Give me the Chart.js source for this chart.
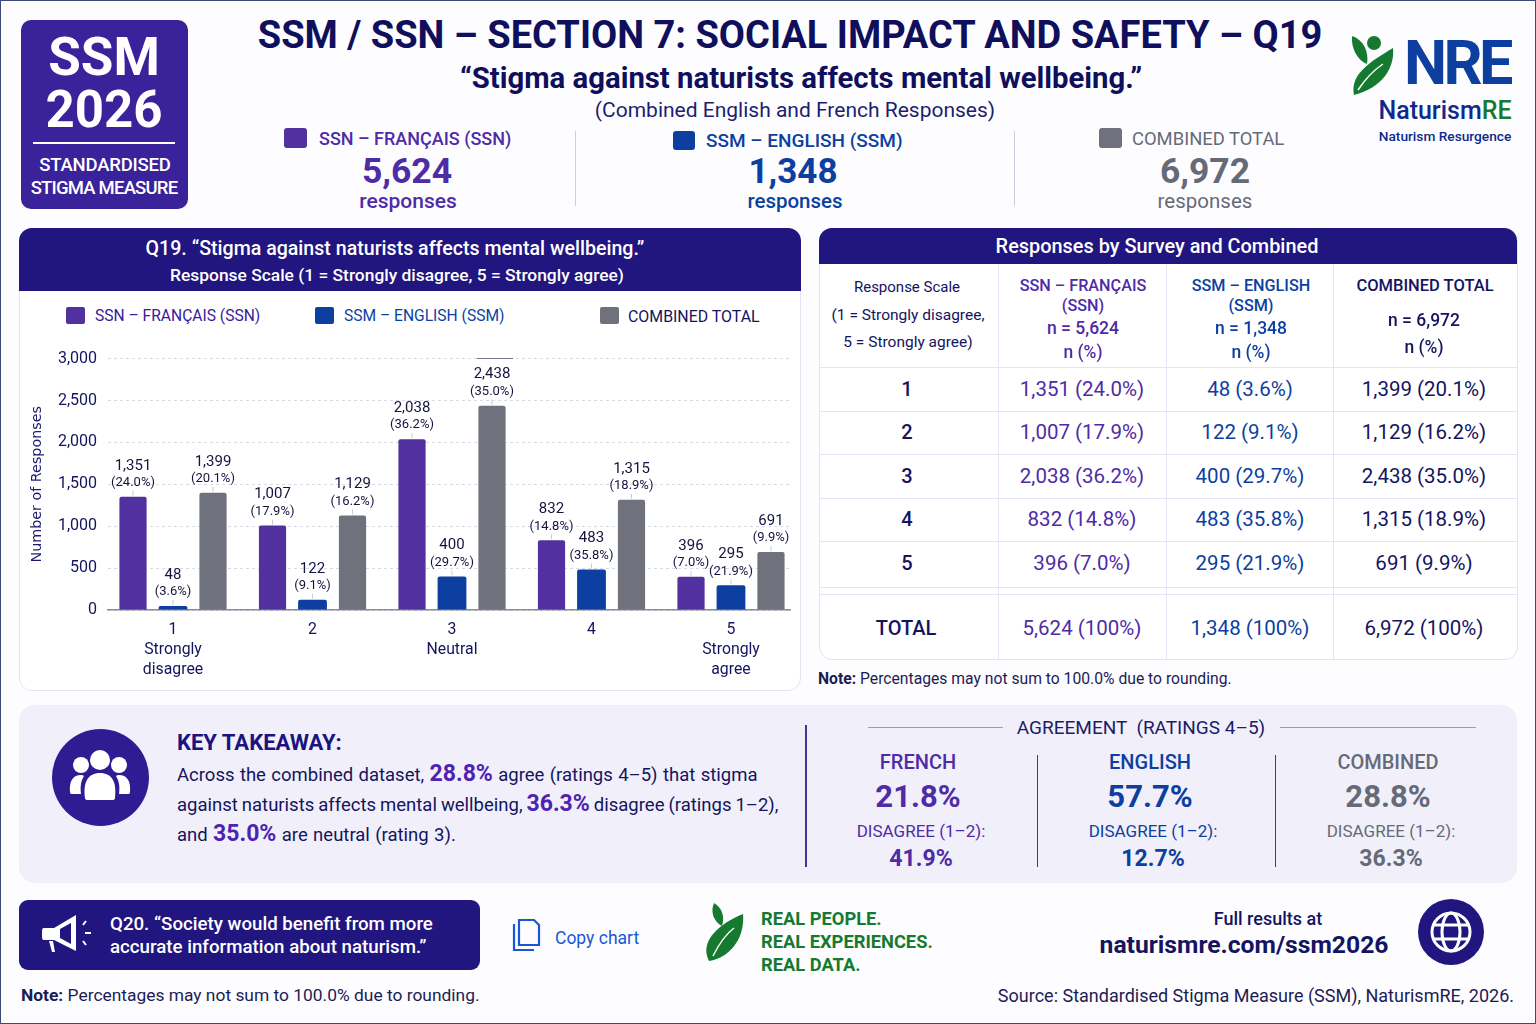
<!DOCTYPE html>
<html>
<head>
<meta charset="utf-8">
<script src="https://cdn.jsdelivr.net/npm/chart.js@4"></script>
<style>
  html, body { margin: 0; padding: 0; background: #fff; }
  #page { position: relative; width: 1536px; height: 1024px; overflow: hidden; background: #fdfdff; font-family: Roboto, sans-serif; color: #14145f; box-sizing: border-box; }
  #frame { position: absolute; inset: 0; border: 1.5px solid #3d4a78; pointer-events: none; }
  .c, .l, .r { position: absolute; white-space: nowrap; }
  .c { transform: translate(-50%, -50%); }
  .l { transform: translateY(-50%); }
  .r { transform: translate(-100%, -50%); }
  .box { position: absolute; }
  .fr { color: #4f2ba6; }
  .en { color: #0c3fa0; }
  .all { color: #666a78; }
  b.hi { color: #4f23b0; font-size: 23px; font-weight: 700; }
  svg { position: absolute; }
</style>
</head>
<body>
<div id="page">
  <div class="box" style="left:21px;top:20px;width:167px;height:189px;border-radius:10px;background:#39229a"></div>
  <div class="c" style="left:104px;top:58px;font-size:53px;font-weight:700;color:#fff;line-height:0.85">SSM</div>
  <div class="c" style="left:104px;top:110px;font-size:51px;font-weight:700;color:#fff;line-height:0.85">2026</div>
  <div class="box" style="left:33px;top:142px;width:142px;height:2px;background:#fff"></div>
  <div class="c" style="left:105px;top:165px;font-size:18.5px;font-weight:500;color:#fff;letter-spacing:-0.2px">STANDARDISED</div>
  <div class="c" style="left:104px;top:188px;font-size:18.5px;font-weight:500;color:#fff;letter-spacing:-0.8px">STIGMA MEASURE</div>

  <div class="c" style="left:790px;top:35px;font-size:38px;font-weight:700;color:#0f0f5c">SSM / SSN – SECTION 7: SOCIAL IMPACT AND SAFETY – Q19</div>
  <div class="c" style="left:801px;top:78px;font-size:29.3px;font-weight:700;color:#0f0f5c">“Stigma against naturists affects mental wellbeing.”</div>
  <div class="c" style="left:795px;top:110px;font-size:21px;color:#1e1e6e">(Combined English and French Responses)</div>

  <div class="box" style="left:284px;top:128px;width:23px;height:20px;border-radius:3px;background:#52309f"></div>
  <div class="l fr" style="left:319px;top:138px;font-size:18px;font-weight:500">SSN – FRANÇAIS (SSN)</div>
  <div class="c fr" style="left:407px;top:171px;font-size:35.5px;font-weight:700">5,624</div>
  <div class="c fr" style="left:408px;top:201px;font-size:21px;font-weight:500">responses</div>
  <div class="box" style="left:575px;top:131px;width:1px;height:75px;background:#ccd0de"></div>
  <div class="box" style="left:673px;top:131px;width:22px;height:19px;border-radius:3px;background:#0c3fa0"></div>
  <div class="l en" style="left:706px;top:140px;font-size:19px;font-weight:500">SSM – ENGLISH (SSM)</div>
  <div class="c en" style="left:793px;top:171px;font-size:35px;font-weight:700">1,348</div>
  <div class="c en" style="left:795px;top:201px;font-size:20.5px;font-weight:500">responses</div>
  <div class="box" style="left:1014px;top:131px;width:1px;height:75px;background:#ccd0de"></div>
  <div class="box" style="left:1099px;top:128px;width:23px;height:20px;border-radius:3px;background:#6f727c"></div>
  <div class="l all" style="left:1132px;top:138px;font-size:18.4px">COMBINED TOTAL</div>
  <div class="c all" style="left:1205px;top:171px;font-size:35.5px;font-weight:700">6,972</div>
  <div class="c all" style="left:1205px;top:201px;font-size:20.5px">responses</div>

  <svg style="left:1350px;top:32px" width="46" height="66" viewBox="0 0 46 66">
    <circle cx="24" cy="11" r="7" fill="#157a30"/>
    <path d="M2 4 C14 8 19 20 17 32 C7 28 1 16 2 4Z" fill="#157a30"/>
    <path d="M43 16 C45 36 32 56 4 63 C0 42 20 30 43 16Z" fill="#157a30"/>
    <path d="M8 58 C16 46 24 38 33 32" stroke="#fff" stroke-width="1.5" fill="none"/>
  </svg>
  <div class="l en" style="left:1404px;top:64px;font-size:61px;font-weight:700;letter-spacing:-3.5px;line-height:0.85">NRE</div>
  <div class="c" style="left:1445px;top:110px;font-size:25px;font-weight:500;color:#0f2a8c;line-height:1">Naturism<span style="color:#157a30">RE</span></div>
  <div class="c" style="left:1445px;top:136px;font-size:13.7px;font-weight:500;color:#0f2a8c">Naturism Resurgence</div>

  <!-- chart card -->
  <div class="box" style="left:19px;top:228px;width:780px;height:461px;border:1px solid #e3e5f2;border-radius:13px;background:#fff"></div>
  <div class="box" style="left:19px;top:228px;width:782px;height:63px;border-radius:13px 13px 0 0;background:#21157f"></div>
  <div class="c" style="left:395px;top:248px;font-size:19.6px;font-weight:500;color:#fff">Q19. “Stigma against naturists affects mental wellbeing.”</div>
  <div class="c" style="left:397px;top:275px;font-size:17.4px;font-weight:500;color:#fff">Response Scale (1 = Strongly disagree, 5 = Strongly agree)</div>
  <div class="box" style="left:66px;top:307px;width:19px;height:17px;border-radius:2px;background:#52309f"></div>
  <div class="l" style="left:95px;top:316px;font-size:15.6px;color:#34209a" id="legendFr"></div>
  <div class="box" style="left:315px;top:307px;width:19px;height:17px;border-radius:2px;background:#0c3fa0"></div>
  <div class="l" style="left:344px;top:316px;font-size:15.6px;color:#0c3fa0" id="legendEn"></div>
  <div class="box" style="left:600px;top:307px;width:19px;height:17px;border-radius:2px;background:#6f727c"></div>
  <div class="l" style="left:628px;top:316px;font-size:15.9px;color:#14145f" id="legendAll"></div>
  <div class="box" style="left:19px;top:338px;width:781px;height:350px"><canvas id="chart" width="781" height="350"></canvas></div>
  <div class="box" style="left:477px;top:357.5px;width:36px;height:1.5px;background:#777a86"></div>

  <!-- table card -->
  <div class="box" id="tableCard" style="left:819px;top:228px;width:697px;height:430px;border:1px solid #e3e5f2;border-radius:13px;background:#fff"></div>
  <div class="box" style="left:819px;top:228px;width:698px;height:36px;border-radius:13px 13px 0 0;background:#21157f"></div>
  <div class="c" style="left:1157px;top:246px;font-size:19.9px;font-weight:500;color:#fff">Responses by Survey and Combined</div>
  <div id="tableCells"></div>
  <div class="l" style="left:818px;top:678px;font-size:15.7px;color:#1c1c55"><b>Note:</b> Percentages may not sum to 100.0% due to rounding.</div>

  <!-- takeaway panel -->
  <div class="box" style="left:19px;top:705px;width:1498px;height:178px;border-radius:16px;background:#f1f0fa"></div>
  <div class="box" style="left:52px;top:729px;width:97px;height:97px;border-radius:50%;background:#2f1b92"></div>
  <svg style="left:68px;top:748px" width="64" height="56" viewBox="0 0 64 56" fill="#fff">
    <circle cx="32" cy="12" r="10"/><circle cx="13" cy="17" r="8"/><circle cx="51" cy="17" r="8"/>
    <path d="M17 50 C15 34 20 25 32 25 C44 25 49 34 47 50 C47 52 45 52 44 52 L20 52 C19 52 17 52 17 50Z"/>
    <path d="M2 44 C1 33 5 27 13 27 C14 27 15 27 16 28 C13 33 12 38 13 46 L5 46 C3 46 2 46 2 44Z"/>
    <path d="M62 44 C63 33 59 27 51 27 C50 27 49 27 48 28 C51 33 52 38 51 46 L59 46 C61 46 62 46 62 44Z"/>
  </svg>
  <div class="l" style="left:177px;top:742px;font-size:22px;font-weight:700;color:#1d1380">KEY TAKEAWAY:</div>
  <div class="l" style="left:177px;top:773px;font-size:18.5px;word-spacing:0.8px">Across the combined dataset, <b class="hi">28.8%</b> agree (ratings 4–5) that stigma</div>
  <div class="l" style="left:177px;top:803px;font-size:18.5px;word-spacing:-0.6px">against naturists affects mental wellbeing, <b class="hi">36.3%</b> disagree (ratings 1–2),</div>
  <div class="l" style="left:177px;top:833px;font-size:18.5px;word-spacing:0.8px">and <b class="hi">35.0%</b> are neutral (rating 3).</div>
  <div class="box" style="left:805px;top:725px;width:2px;height:142px;background:#3b3a8e"></div>
  <div class="box" style="left:868px;top:727px;width:135px;height:1px;background:#9a9cb8"></div>
  <div class="box" style="left:1280px;top:727px;width:196px;height:1px;background:#9a9cb8"></div>
  <div class="c" style="left:1141px;top:727px;font-size:19px;color:#1c1c6a">AGREEMENT &nbsp;(RATINGS 4–5)</div>
  <div class="box" style="left:1037px;top:755px;width:1px;height:112px;background:#3b3a8e"></div>
  <div class="box" style="left:1275px;top:755px;width:1px;height:112px;background:#3b3a8e"></div>
  <div id="agreeCells"></div>

  <!-- footer -->
  <div class="box" style="left:19px;top:900px;width:461px;height:70px;border-radius:9px;background:#21157f"></div>
  <svg style="left:40px;top:912px" width="56" height="46" viewBox="0 0 56 46">
    <path d="M4 16 L14 16 L36 3 L36 39 L14 28 L4 28 C2 28 2 26 2 24 L2 20 C2 18 2 16 4 16Z" fill="#fff"/>
    <path d="M20 17 L31 11 L31 32 L20 26Z" fill="#21157f"/>
    <path d="M9 29 L12 40 L15 40 L13 29Z" fill="#fff"/>
    <path d="M43 13 L46 9 M45 21 L51 21 M43 29 L46 33" stroke="#fff" stroke-width="2" fill="none"/>
  </svg>
  <div class="l" style="left:110px;top:924px;font-size:18.7px;font-weight:500;color:#fff">Q20. “Society would benefit from more</div>
  <div class="l" style="left:110px;top:947px;font-size:18.7px;font-weight:500;color:#fff">accurate information about naturism.”</div>
  <svg style="left:512px;top:917px" width="30" height="35" viewBox="0 0 30 35" fill="none" stroke="#1a56d6" stroke-width="2.2">
    <path d="M7 3 L22 3 L27 8 L27 28 L7 28Z"/><path d="M2 7 L2 33 L22 33"/>
  </svg>
  <div class="l" style="left:555px;top:938px;font-size:17.5px;color:#1a56d6">Copy chart</div>
  <svg style="left:702px;top:902px" width="42" height="60" viewBox="0 0 42 60">
    <path d="M12 1 C20 6 23 14 20 24 C12 20 8 10 12 1Z" fill="#157a30"/>
    <path d="M41 12 C43 34 30 55 7 59 C-2 42 12 24 41 12Z" fill="#157a30"/>
    <path d="M11 54 C17 42 24 32 32 26" stroke="#fff" stroke-width="1.4" fill="none"/>
  </svg>
  <div class="l" style="left:761px;top:918px;font-size:18.3px;font-weight:700;color:#157a30">REAL PEOPLE.</div>
  <div class="l" style="left:761px;top:941px;font-size:18.3px;font-weight:700;color:#157a30">REAL EXPERIENCES.</div>
  <div class="l" style="left:761px;top:964px;font-size:18.3px;font-weight:700;color:#157a30">REAL DATA.</div>
  <div class="c" style="left:1268px;top:918px;font-size:18px;font-weight:500;color:#14145f">Full results at</div>
  <div class="c" style="left:1244px;top:944px;font-size:24.7px;font-weight:700;color:#14145f">naturismre.com/ssm2026</div>
  <svg style="left:1418px;top:899px" width="66" height="66" viewBox="0 0 66 66">
    <circle cx="33" cy="33" r="33" fill="#21157f"/>
    <g fill="none" stroke="#fff" stroke-width="3">
      <circle cx="33" cy="33" r="19"/><ellipse cx="33" cy="33" rx="9" ry="19"/>
      <path d="M15 26 L51 26 M15 40 L51 40"/>
    </g>
  </svg>
  <div class="l" style="left:21px;top:995px;font-size:17.4px;color:#1c1c55"><b>Note:</b> Percentages may not sum to 100.0% due to rounding.</div>
  <div class="r" style="left:1514px;top:995px;font-size:18px;color:#1c1c55">Source: Standardised Stigma Measure (SSM), NaturismRE, 2026.</div>
  <div id="frame"></div>
</div>

<script>
const categories = [1, 2, 3, 4, 5];
const categoryNames = { 1: ['1', 'Strongly', 'disagree'], 2: ['2'], 3: ['3', 'Neutral'], 4: ['4'], 5: ['5', 'Strongly', 'agree'] };
const seriesNames = ['SSN – FRANÇAIS (SSN)', 'SSM – ENGLISH (SSM)', 'COMBINED TOTAL'];
const frenchValues = [1351, 1007, 2038, 832, 396];
const englishValues = [48, 122, 400, 483, 295];
const combinedValues = [1399, 1129, 2438, 1315, 691];
const frenchPct = ['24.0', '17.9', '36.2', '14.8', '7.0'];
const englishPct = ['3.6', '9.1', '29.7', '35.8', '21.9'];
const combinedPct = ['20.1', '16.2', '35.0', '18.9', '9.9'];
const totals = [5624, 1348, 6972];
const agreeLabels = ['FRENCH', 'ENGLISH', 'COMBINED'];
const agreePct = ['21.8%', '57.7%', '28.8%'];
const disagreePct = ['41.9%', '12.7%', '36.3%'];

const seriesColors = ['#52309f', '#0c3fa0', '#6f727c'];
const pctBySeries = [frenchPct, englishPct, combinedPct];
const valuesBySeries = [frenchValues, englishValues, combinedValues];
const fmt = n => n.toLocaleString('en-US');

document.getElementById('legendFr').textContent = seriesNames[0];
document.getElementById('legendEn').textContent = seriesNames[1];
document.getElementById('legendAll').textContent = seriesNames[2];

// table, laid out by hand so the rows line up with the card
function put(parent, html, x, y, style) {
  const el = document.createElement('div');
  el.className = 'c';
  el.style.cssText = 'left:' + x + 'px;top:' + y + 'px;' + style;
  el.innerHTML = html;
  parent.appendChild(el);
}
function rule(parent, x, y, w, h, color) {
  const el = document.createElement('div');
  el.className = 'box';
  el.style.cssText = 'left:' + x + 'px;top:' + y + 'px;width:' + w + 'px;height:' + h + 'px;background:' + color;
  parent.appendChild(el);
}
const cells = document.getElementById('tableCells');
const colX = [1082, 1250, 1424];
const colClass = ['color:#4f2ba6', 'color:#0c3fa0', 'color:#14145f'];
const rowY = [389, 432, 476, 519, 563];
[367, 411, 454, 498, 541, 587, 594].forEach(y => rule(cells, 819, y, 698, 1, '#e3e5f2'));
[998, 1166, 1333].forEach(x => rule(cells, x, 264, 1, 395, '#e3e5f2'));
put(cells, 'Response Scale', 907, 287, 'font-size:15px;color:#14145f');
put(cells, '(1 = Strongly disagree,', 908, 315, 'font-size:15.5px;color:#14145f');
put(cells, '5 = Strongly agree)', 908, 342, 'font-size:15.5px;color:#14145f');
[['SSN – FRANÇAIS', '(SSN)', 'n = ' + fmt(totals[0]), 'n (%)'], ['SSM – ENGLISH', '(SSM)', 'n = ' + fmt(totals[1]), 'n (%)']].forEach((lines, c) => {
  [285, 305, 328, 352].forEach((y, i) => put(cells, lines[i], colX[c] + 1, y, 'font-size:' + (i < 2 ? 16.2 : 17.5) + 'px;font-weight:500;' + colClass[c]));
});
put(cells, 'COMBINED TOTAL', 1425, 285, 'font-size:16.5px;font-weight:500;color:#14145f');
put(cells, 'n = ' + fmt(totals[2]), 1424, 320, 'font-size:17.5px;font-weight:500;color:#14145f');
put(cells, 'n (%)', 1424, 347, 'font-size:17.5px;font-weight:500;color:#14145f');
categories.forEach((cat, r) => {
  put(cells, String(cat), 907, rowY[r], 'font-size:20px;font-weight:500;color:#14145f');
  valuesBySeries.forEach((vals, c) => {
    put(cells, fmt(vals[r]) + ' (' + pctBySeries[c][r] + '%)', colX[c], rowY[r], 'font-size:20.5px;' + colClass[c]);
  });
});
put(cells, 'TOTAL', 906, 628, 'font-size:20px;font-weight:500;color:#14145f');
totals.forEach((t, c) => put(cells, fmt(t) + ' (100%)', colX[c], 628, 'font-size:20.5px;' + colClass[c]));

// agreement columns
const agree = document.getElementById('agreeCells');
const agreeX = [918, 1150, 1388];
const agreeColor = ['#4f2ba6', '#0c3fa0', '#666a78'];
agreeLabels.forEach((name, i) => {
  put(agree, name, agreeX[i], 762, 'font-size:20px;font-weight:500;color:' + agreeColor[i]);
  put(agree, agreePct[i], agreeX[i], 796, 'font-size:31px;font-weight:700;color:' + agreeColor[i]);
  put(agree, 'DISAGREE (1–2):', agreeX[i] + 3, 831, 'font-size:17px;color:' + agreeColor[i]);
  put(agree, disagreePct[i], agreeX[i] + 3, 858, 'font-size:23px;font-weight:700;color:' + agreeColor[i]);
});

// count and percentage over each bar
const barLabels = {
  id: 'barLabels',
  afterDatasetsDraw(chart) {
    const ctx = chart.ctx;
    chart.data.datasets.forEach((ds, d) => {
      chart.getDatasetMeta(d).data.forEach((bar, i) => {
        ctx.save();
        ctx.strokeStyle = '#c9ccda';
        ctx.lineWidth = 1;
        ctx.beginPath();
        ctx.moveTo(bar.x, bar.y - 1);
        ctx.lineTo(bar.x, bar.y - 6);
        ctx.stroke();
        ctx.textAlign = 'center';
        ctx.textBaseline = 'middle';
        ctx.fillStyle = '#14143f';
        ctx.font = '13px Roboto';
        ctx.fillText('(' + pctBySeries[d][i] + '%)', bar.x, bar.y - 14);
        ctx.font = '15px Roboto';
        ctx.fillText(fmt(ds.data[i]), bar.x, bar.y - 31);
        ctx.restore();
      });
    });
  }
};

new Chart(document.getElementById('chart').getContext('2d'), {
  type: 'bar',
  data: {
    labels: categories,
    datasets: seriesNames.map((name, i) => ({
      label: name,
      data: valuesBySeries[i],
      backgroundColor: seriesColors[i],
      barPercentage: i === 1 ? 0.72 : 0.68,
      categoryPercentage: 0.86,
      borderRadius: { topLeft: 2, topRight: 2 },
      borderSkipped: 'bottom',
    })),
  },
  plugins: [barLabels],
  options: {
    responsive: false,
    animation: false,
    layout: { padding: { left: 10, right: 10, top: 6, bottom: 0 } },
    plugins: { legend: { display: false }, tooltip: { enabled: false } },
    scales: {
      x: {
        type: 'linear',
        offset: false,
        min: 0.534,
        max: 5.423,
        afterFit: axis => { axis.height = 78; },
        grid: { display: false },
        border: { color: '#8a8d99', width: 1.5 },
        ticks: {
          stepSize: 1,
          includeBounds: false,
          maxRotation: 0,
          padding: 2,
          color: '#14145f',
          font: { family: 'Roboto', size: 15.8, lineHeight: 1.26 },
          callback: v => categoryNames[v],
        },
      },
      y: {
        min: 0,
        max: 3000,
        afterFit: axis => { axis.width = 79; },
        grid: { color: '#d8dae6', drawTicks: false },
        border: { display: false, dash: [3, 3] },
        title: { display: true, text: 'Number of Responses', color: '#1e1a70', padding: 0, font: { family: 'DejaVu Sans', size: 14.3 } },
        ticks: {
          stepSize: 500,
          padding: 11,
          color: '#14145f',
          font: { family: 'Roboto', size: 16 },
          callback: v => fmt(v),
        },
      },
    },
  },
});
</script>
</body>
</html>
